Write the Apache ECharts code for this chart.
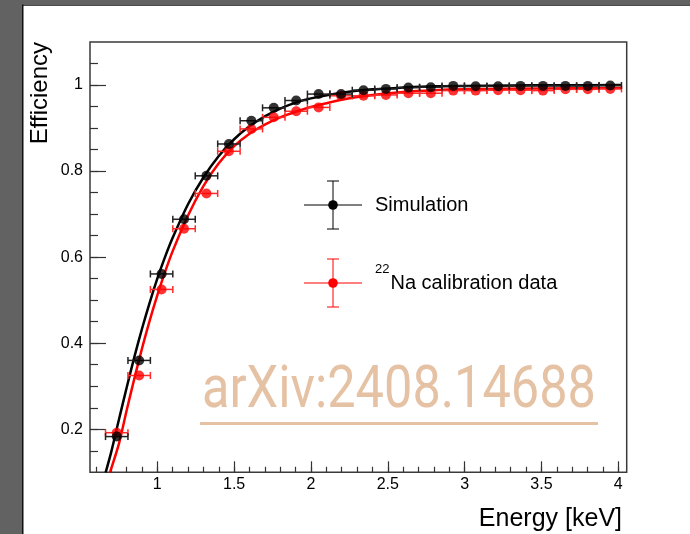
<!DOCTYPE html>
<html><head><meta charset="utf-8">
<script src="https://cdn.jsdelivr.net/npm/echarts@6/dist/echarts.min.js"></script>
<style>html,body{margin:0;padding:0;background:#fff}#c{width:690px;height:534px}</style>
</head><body><div id="c"></div>
<script>
// ---- data ----
const binX = [0.736,0.882,1.028,1.174,1.320,1.466,1.612,1.758,1.904,2.050,2.196,2.342,2.488,2.634,2.780,2.926,3.072,3.218,3.364,3.510,3.656,3.802,3.948];
const binHalfWidth = 0.073;
const simY  = [0.183,0.360,0.561,0.688,0.789,0.863,0.917,0.947,0.964,0.979,0.979,0.988,0.991,0.994,0.995,0.998,0.997,0.997,0.998,0.998,0.998,0.998,0.999];
const naY   = [0.192,0.325,0.525,0.666,0.748,0.846,0.898,0.925,0.939,0.948,0.975,0.975,0.977,0.981,0.981,0.987,0.987,0.988,0.988,0.987,0.990,0.990,0.991];
const simFitX = [0.664,0.70,0.75,0.80,0.85,0.90,0.95,1.00,1.05,1.10,1.20,1.30,1.40,1.50,1.60,1.70,1.80,1.90,2.00,2.20,2.40,2.60,2.80,3.00,3.30,3.60,4.02];
const simFitY = [0.100,0.147,0.222,0.296,0.367,0.433,0.494,0.550,0.600,0.645,0.723,0.785,0.835,0.874,0.904,0.927,0.945,0.959,0.969,0.982,0.990,0.994,0.997,0.998,0.999,0.9995,1.000];
const naFitX  = [0.692,0.75,0.80,0.85,0.90,0.95,1.00,1.05,1.10,1.20,1.30,1.40,1.50,1.60,1.70,1.80,1.90,2.00,2.20,2.40,2.60,2.80,3.00,3.50,4.02];
const naFitY  = [0.100,0.166,0.243,0.317,0.387,0.452,0.511,0.565,0.614,0.697,0.765,0.818,0.858,0.887,0.908,0.925,0.938,0.949,0.966,0.977,0.984,0.988,0.990,0.992,0.993];
const xTickMajor = [1,1.5,2,2.5,3,3.5,4];
const xTickMinor = [0.6,0.7,0.8,0.9,1.0,1.1,1.2,1.3,1.4,1.5,1.6,1.7,1.8,1.9,2.0,2.1,2.2,2.3,2.4,2.5,2.6,2.7,2.8,2.9,3.0,3.1,3.2,3.3,3.4,3.5,3.6,3.7,3.8,3.9,4.0];
const yTickMajor = [0.2,0.4,0.6,0.8,1];
const yTickMinor = [0.15,0.2,0.25,0.3,0.35,0.4,0.45,0.5,0.55,0.6,0.65,0.7,0.75,0.8,0.85,0.9,0.95,1.0,1.05];
const legendNames = ['Simulation', 'Na calibration data'];
const legendSup = '22';
const watermark = 'arXiv:2408.14688';

// ---- build ----
const FONT = '"Liberation Sans", Arial, Helvetica, sans-serif';
const chart = echarts.init(document.getElementById('c'), null, {renderer:'canvas'});
const X0 = 0.562, X1 = 4.055, Y0 = 0.1, Y1 = 1.1;

function zip(a,b){return a.map((v,i)=>[v,b[i]]);}
function errData(ys){return binX.map((x,i)=>[x, ys[i], binHalfWidth]);}
function errSeries(ys,color,z){
  return {type:'custom', z:z, silent:true, data:errData(ys), encode:{x:0,y:1},
    renderItem:function(params, api){
      const x=api.value(0), y=api.value(1), e=api.value(2);
      const a=api.coord([x-e,y]), b=api.coord([x+e,y]);
      const h=3.5, st={stroke:color, lineWidth:1.5};
      return {type:'group', children:[
        {type:'line', shape:{x1:a[0],y1:a[1],x2:b[0],y2:b[1]}, style:st},
        {type:'line', shape:{x1:a[0],y1:a[1]-h,x2:a[0],y2:a[1]+h}, style:st},
        {type:'line', shape:{x1:b[0],y1:b[1]-h,x2:b[0],y2:b[1]+h}, style:st}
      ]};
    }};
}

// watermark width fitting
const cv = document.createElement('canvas').getContext('2d');
const wmFont = '400 60px Roboto';
cv.font = wmFont;
const wmW = cv.measureText(watermark).width || 490;
const wmScale = 394 / wmW;

function legendItem(cy, color){
  const st={stroke:color, lineWidth:1};
  return [
    {type:'line', shape:{x1:304,y1:cy,x2:362,y2:cy}, style:st},
    {type:'line', shape:{x1:333,y1:cy-24,x2:333,y2:cy+24}, style:st},
    {type:'line', shape:{x1:327,y1:cy-24,x2:339,y2:cy-24}, style:st},
    {type:'line', shape:{x1:327,y1:cy+24,x2:339,y2:cy+24}, style:st},
    {type:'circle', shape:{cx:333,cy:cy,r:4.8}, style:{fill:color}}
  ];
}

const option = {
  animation:false,
  backgroundColor:'#ffffff',
  grid:{left:90, top:42, right:63.3, bottom:61.7, show:true, borderColor:'#3a3a3a', borderWidth:1.5, backgroundColor:'#fff'},
  xAxis:[
    {type:'value', min:X0, max:X1, position:'bottom', axisLine:{show:false,onZero:false}, splitLine:{show:false},
     axisTick:{show:true, inside:true, length:11, customValues:xTickMajor, lineStyle:{color:'#333',width:1.2}},
     axisLabel:{show:true, customValues:xTickMajor, margin:4, color:'#000', fontSize:16, fontFamily:FONT, formatter:v=>String(v)}},
    {type:'value', min:X0, max:X1, position:'bottom', axisLine:{show:false,onZero:false}, splitLine:{show:false},
     axisTick:{show:true, inside:true, length:5.5, customValues:xTickMinor, lineStyle:{color:'#333',width:1.2}},
     axisLabel:{show:false}}
  ],
  yAxis:[
    {type:'value', min:Y0, max:Y1, position:'left', axisLine:{show:false,onZero:false}, splitLine:{show:false},
     axisTick:{show:true, inside:true, length:16, customValues:yTickMajor, lineStyle:{color:'#333',width:1.2}},
     axisLabel:{show:true, customValues:yTickMajor, margin:7, color:'#000', fontSize:16, fontFamily:FONT, formatter:v=>String(v)}},
    {type:'value', min:Y0, max:Y1, position:'left', axisLine:{show:false,onZero:false}, splitLine:{show:false},
     axisTick:{show:true, inside:true, length:8, customValues:yTickMinor, lineStyle:{color:'#333',width:1.2}},
     axisLabel:{show:false}}
  ],
  series:[
    {type:'line', name:'naFit', data:zip(naFitX,naFitY), symbol:'none', smooth:0.3, clip:true,
     lineStyle:{color:'#ff0000', width:2.5}, z:2, silent:true},
    {type:'line', name:'simFit', data:zip(simFitX,simFitY), symbol:'none', smooth:0.3, clip:true,
     lineStyle:{color:'#000000', width:2.5}, z:3, silent:true},
    errSeries(naY,'#ff2a2a',4),
    {type:'scatter', data:zip(binX,naY), symbol:'circle', symbolSize:10, itemStyle:{color:'#ff0000'}, z:5, silent:true},
    errSeries(simY,'#222222',6),
    {type:'scatter', data:zip(binX,simY), symbol:'circle', symbolSize:10, itemStyle:{color:'#000000'}, z:7, silent:true}
  ],
  graphic:[
    {type:'rect', shape:{x:0,y:0,width:22,height:534}, style:{fill:'#626262'}, z:100},
    {type:'rect', shape:{x:0,y:0,width:690,height:4.5}, style:{fill:'#626262'}, z:100},
    {type:'rect', shape:{x:22,y:4.5,width:1.5,height:530}, style:{fill:'#111'}, z:100},
    {type:'rect', shape:{x:22,y:4.5,width:668,height:1.3}, style:{fill:'#111'}, z:100},
    {type:'text', x:40, y:42, rotation:Math.PI/2, z:100,
     style:{text:'Efficiency', fontSize:24, fontFamily:FONT, fill:'#000', align:'right', verticalAlign:'middle'}},
    {type:'text', x:622, y:519, z:100,
     style:{text:'Energy [keV]', fontSize:25, fontFamily:FONT, fill:'#000', align:'right', verticalAlign:'middle'}},
    ...legendItem(205,'#000000'),
    ...legendItem(283,'#ff0000'),
    {type:'text', x:375, y:205, z:100, style:{text:legendNames[0], fontSize:20, fontFamily:FONT, fill:'#000', align:'left', verticalAlign:'middle'}},
    {type:'text', x:375, y:269, z:100, style:{text:legendSup, fontSize:13, fontFamily:FONT, fill:'#000', align:'left', verticalAlign:'middle'}},
    {type:'text', x:390.5, y:283, z:100, style:{text:legendNames[1], fontSize:20, fontFamily:FONT, fill:'#000', align:'left', verticalAlign:'middle'}},
    {type:'text', x:202, y:392, scaleX:wmScale, scaleY:1, z:90,
     style:{text:watermark, font:wmFont, fill:'#e6c2a5', align:'left', verticalAlign:'middle'}},
    {type:'rect', shape:{x:200,y:422,width:398,height:3}, style:{fill:'#e6c2a5'}, z:90}
  ]
};
chart.setOption(option);
</script></body></html>
